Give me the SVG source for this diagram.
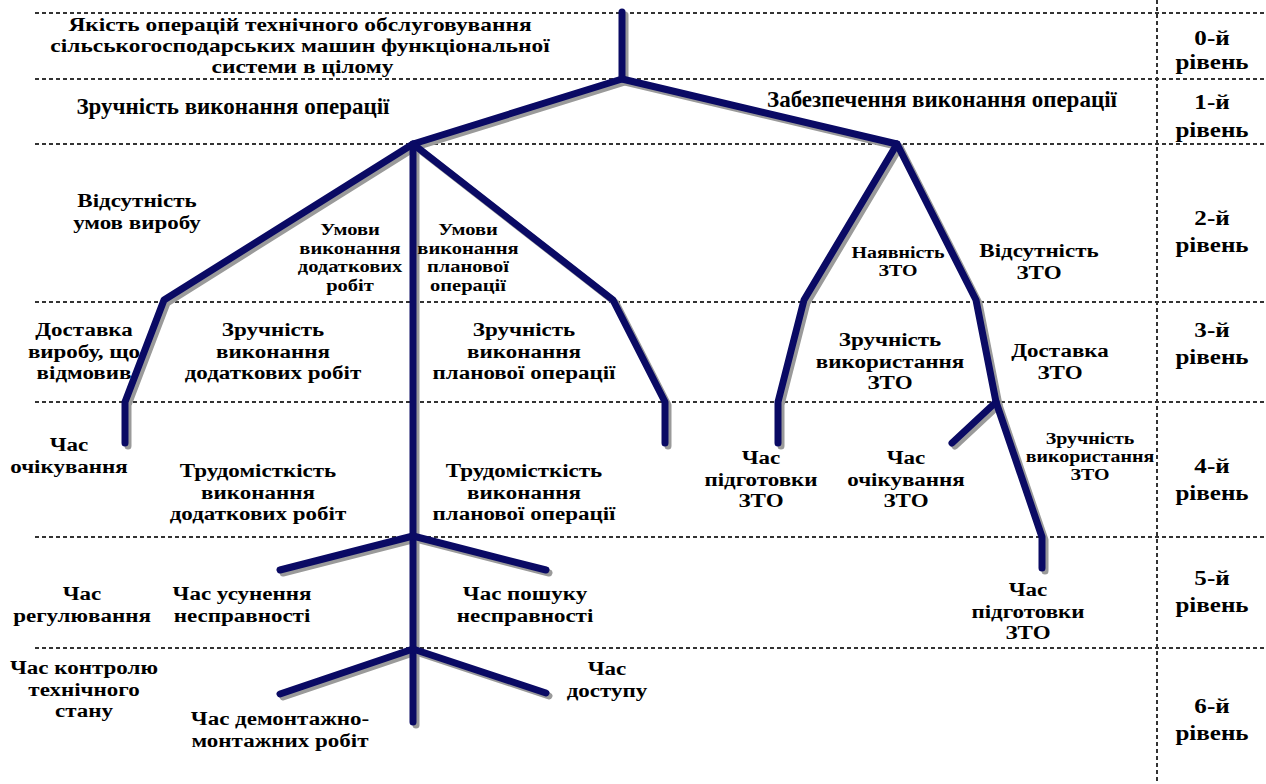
<svg xmlns="http://www.w3.org/2000/svg" width="1266" height="784" viewBox="0 0 1266 784">
<style>
.grid{stroke:#333;stroke-width:2;stroke-dasharray:4 3;fill:none}
.sh{stroke:#9a9a9a;stroke-width:7;fill:none;stroke-linecap:round;stroke-linejoin:round}
.br{stroke:#0a0a64;stroke-width:7;fill:none;stroke-linecap:round;stroke-linejoin:round}
text{font-family:"Liberation Serif","Times New Roman",serif;font-weight:bold;fill:#000;text-anchor:middle;font-size:19.5px}
.one{font-size:23px}
.tt{font-size:18.9px}
.sm{font-size:16.8px}
.xs{font-size:16.2px}
.lv{font-size:21.6px}
</style>
<rect width="1266" height="784" fill="#fff"/>
<g id="grid">
<path class="grid" d="M35,13H1266M35,79H1266M35,144H1266M35,302H1266M35,402H1266M35,537H1266M35,648H1266"/>
<path class="grid" d="M1157,0V784"/>
</g>
<g id="connectors">
<defs>
<path id="p1" d="M622,12V79"/>
<path id="p2" d="M413,144L622,79L897,144"/>
<path id="p3" d="M125,443V402L164,300L413,144L613,300L665,402V443"/>
<path id="p4" d="M413,144V722"/>
<path id="p5" d="M280,570L413,536L546,570"/>
<path id="p6" d="M280,694L413,649L546,693"/>
<path id="p7" d="M778,443V402L804,300L897,144L976,300L996,402L1042,537V568"/>
<path id="p8" d="M952,443L996,402"/>
</defs>
<g transform="translate(3,3)">
<use href="#p1" class="sh"/><use href="#p2" class="sh"/><use href="#p3" class="sh"/><use href="#p4" class="sh"/>
<use href="#p5" class="sh"/><use href="#p6" class="sh"/><use href="#p7" class="sh"/><use href="#p8" class="sh"/>
</g>
<use href="#p1" class="br"/><use href="#p2" class="br"/><use href="#p3" class="br"/><use href="#p4" class="br"/>
<use href="#p5" class="br"/><use href="#p6" class="br"/><use href="#p7" class="br"/><use href="#p8" class="br"/>
</g>
<g id="levels">
<g id="lv0" transform="translate(1212,0) scale(1.16,1)"><text class="lv" y="45"><tspan x="0">0-й</tspan><tspan x="0" dy="24.2">рівень</tspan></text></g>
<g id="lv1" transform="translate(1212,0) scale(1.16,1)"><text class="lv" y="109"><tspan x="0">1-й</tspan><tspan x="0" dy="28">рівень</tspan></text></g>
<g id="lv2" transform="translate(1212,0) scale(1.16,1)"><text class="lv" y="225"><tspan x="0">2-й</tspan><tspan x="0" dy="27">рівень</tspan></text></g>
<g id="lv3" transform="translate(1212,0) scale(1.16,1)"><text class="lv" y="337"><tspan x="0">3-й</tspan><tspan x="0" dy="27">рівень</tspan></text></g>
<g id="lv4" transform="translate(1212,0) scale(1.16,1)"><text class="lv" y="473"><tspan x="0">4-й</tspan><tspan x="0" dy="27">рівень</tspan></text></g>
<g id="lv5" transform="translate(1212,0) scale(1.16,1)"><text class="lv" y="585"><tspan x="0">5-й</tspan><tspan x="0" dy="27">рівень</tspan></text></g>
<g id="lv6" transform="translate(1212,0) scale(1.16,1)"><text class="lv" y="713"><tspan x="0">6-й</tspan><tspan x="0" dy="27">рівень</tspan></text></g>
</g>
<g id="n0" transform="translate(300,0) scale(1.24,1)"><text class="tt" y="31"><tspan x="0">Якість операцій технічного обслуговування</tspan><tspan x="0" dy="21">сільськогосподарських машин функціональної</tspan><tspan x="2" dy="21">системи в цілому</tspan></text></g>
<g id="n1a"><text class="one" x="233" y="114">Зручність виконання операції</text></g>
<g id="n1b"><text class="one" x="942" y="107">Забезпечення виконання операції</text></g>
<g id="n2a" transform="translate(137,0) scale(1.18,1)"><text y="207"><tspan x="0">Відсутність</tspan><tspan x="0" dy="21.6">умов виробу</tspan></text></g>
<g id="n2b" transform="translate(350,0) scale(1.22,1)"><text class="sm" y="235"><tspan x="0">Умови</tspan><tspan x="0" dy="18.7">виконання</tspan><tspan x="0" dy="18.7">додаткових</tspan><tspan x="0" dy="18.7">робіт</tspan></text></g>
<g id="n2c" transform="translate(468,0) scale(1.22,1)"><text class="sm" y="235"><tspan x="0">Умови</tspan><tspan x="0" dy="18.7">виконання</tspan><tspan x="0" dy="18.7">планової</tspan><tspan x="0" dy="18.7">операції</tspan></text></g>
<g id="n2d" transform="translate(898,0) scale(1.23,1)"><text class="xs" y="258"><tspan x="0">Наявність</tspan><tspan x="0" dy="18">ЗТО</tspan></text></g>
<g id="n2e" transform="translate(1039,0) scale(1.18,1)"><text y="257"><tspan x="0">Відсутність</tspan><tspan x="0" dy="21.6">ЗТО</tspan></text></g>
<g id="n3a" transform="translate(84,0) scale(1.18,1)"><text y="336"><tspan x="0">Доставка</tspan><tspan x="0" dy="21.6">виробу, що</tspan><tspan x="0" dy="21.6">відмовив</tspan></text></g>
<g id="n3b" transform="translate(273,0) scale(1.18,1)"><text y="336"><tspan x="0">Зручність</tspan><tspan x="0" dy="21.6">виконання</tspan><tspan x="0" dy="21.6">додаткових робіт</tspan></text></g>
<g id="n3c" transform="translate(524,0) scale(1.18,1)"><text y="336"><tspan x="0">Зручність</tspan><tspan x="0" dy="21.6">виконання</tspan><tspan x="0" dy="21.6">планової операції</tspan></text></g>
<g id="n3d" transform="translate(890,0) scale(1.18,1)"><text y="346"><tspan x="0">Зручність</tspan><tspan x="0" dy="21.6">використання</tspan><tspan x="0" dy="21.6">ЗТО</tspan></text></g>
<g id="n3e" transform="translate(1060,0) scale(1.18,1)"><text y="357"><tspan x="0">Доставка</tspan><tspan x="0" dy="21.6">ЗТО</tspan></text></g>
<g id="n4a" transform="translate(69,0) scale(1.18,1)"><text y="451"><tspan x="0">Час</tspan><tspan x="0" dy="21.6">очікування</tspan></text></g>
<g id="n4b" transform="translate(258,0) scale(1.18,1)"><text y="477"><tspan x="0">Трудомісткість</tspan><tspan x="0" dy="21.6">виконання</tspan><tspan x="0" dy="21.6">додаткових робіт</tspan></text></g>
<g id="n4c" transform="translate(524,0) scale(1.18,1)"><text y="477"><tspan x="0">Трудомісткість</tspan><tspan x="0" dy="21.6">виконання</tspan><tspan x="0" dy="21.6">планової операції</tspan></text></g>
<g id="n4d" transform="translate(761,0) scale(1.18,1)"><text y="464"><tspan x="0">Час</tspan><tspan x="0" dy="21.6">підготовки</tspan><tspan x="0" dy="21.6">ЗТО</tspan></text></g>
<g id="n4e" transform="translate(906,0) scale(1.18,1)"><text y="464"><tspan x="0">Час</tspan><tspan x="0" dy="21.6">очікування</tspan><tspan x="0" dy="21.6">ЗТО</tspan></text></g>
<g id="n4f" transform="translate(1090,0) scale(1.23,1)"><text class="xs" y="444"><tspan x="0">Зручність</tspan><tspan x="0" dy="18">використання</tspan><tspan x="0" dy="18">ЗТО</tspan></text></g>
<g id="n5a" transform="translate(82,0) scale(1.18,1)"><text y="600"><tspan x="0">Час</tspan><tspan x="0" dy="21.6">регулювання</tspan></text></g>
<g id="n5b" transform="translate(242,0) scale(1.18,1)"><text y="600"><tspan x="0">Час усунення</tspan><tspan x="0" dy="21.6">несправності</tspan></text></g>
<g id="n5c" transform="translate(525,0) scale(1.18,1)"><text y="600"><tspan x="0">Час пошуку</tspan><tspan x="0" dy="21.6">несправності</tspan></text></g>
<g id="n5d" transform="translate(1028,0) scale(1.18,1)"><text y="596"><tspan x="0">Час</tspan><tspan x="0" dy="21.6">підготовки</tspan><tspan x="0" dy="21.6">ЗТО</tspan></text></g>
<g id="n6a" transform="translate(84,0) scale(1.18,1)"><text y="674"><tspan x="0">Час контролю</tspan><tspan x="0" dy="21.6">технічного</tspan><tspan x="0" dy="21.6">стану</tspan></text></g>
<g id="n6b" transform="translate(280,0) scale(1.18,1)"><text y="725"><tspan x="0">Час демонтажно-</tspan><tspan x="0" dy="21.6">монтажних робіт</tspan></text></g>
<g id="n6c" transform="translate(607,0) scale(1.18,1)"><text y="675"><tspan x="0">Час</tspan><tspan x="0" dy="22">доступу</tspan></text></g>
</svg>
